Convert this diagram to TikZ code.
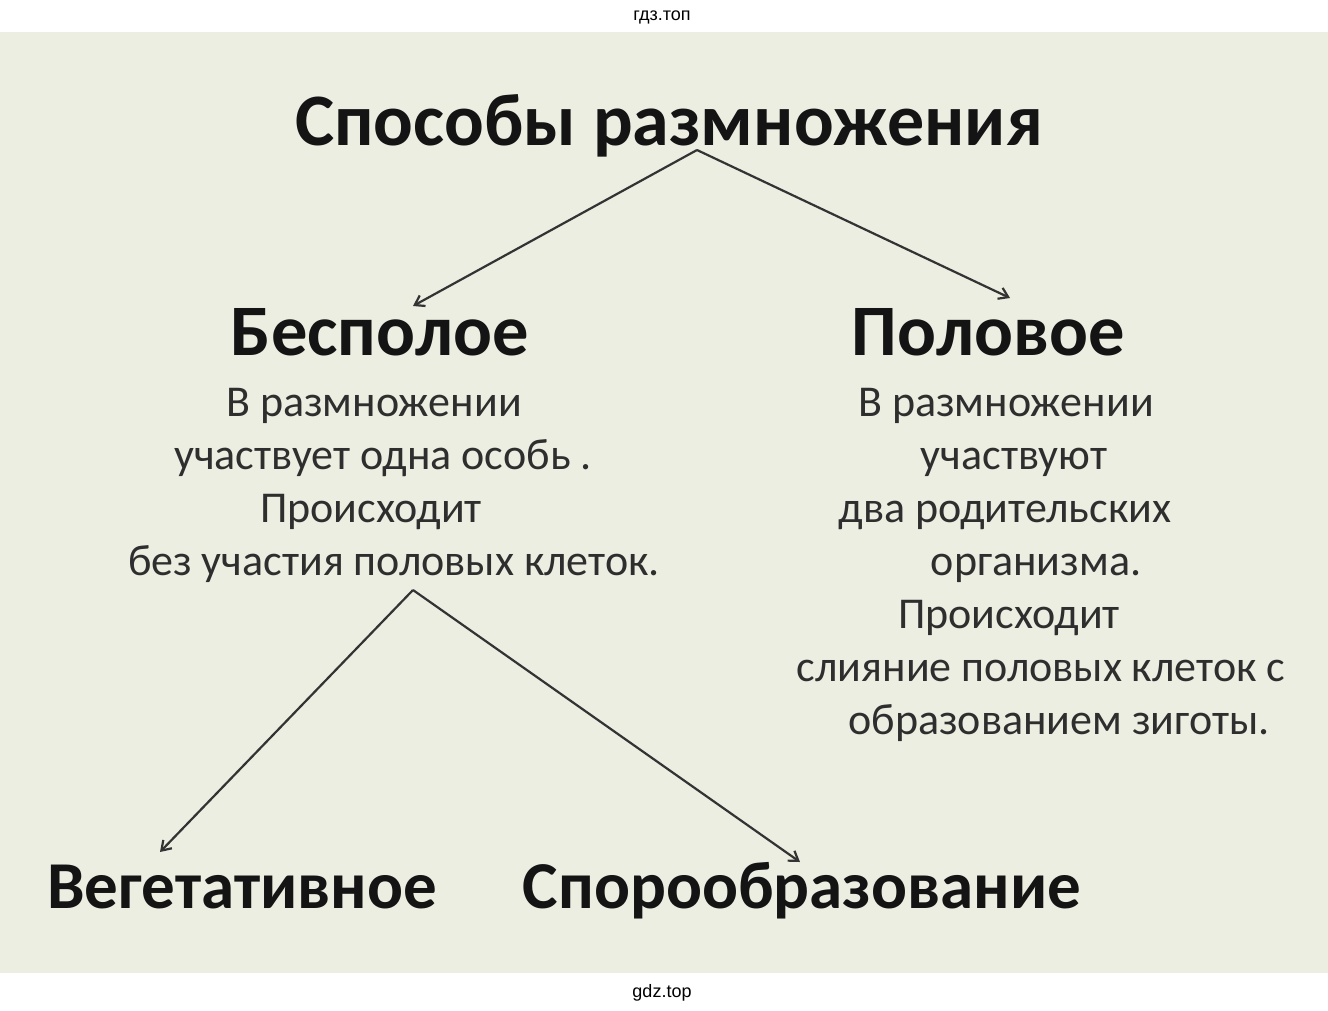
\documentclass[tikz,border=0pt]{standalone}
\usepackage{fontspec}
\setmainfont{Carlito}
\newfontfamily\hdrfont{Liberation Sans}
\usetikzlibrary{arrows.meta}
\definecolor{panel}{HTML}{EBEEE1}
\definecolor{ink}{HTML}{141414}
\definecolor{body}{HTML}{2E2E2E}
\definecolor{arr}{HTML}{333333}
\tikzset{
  ttl/.style={anchor=base, inner sep=0pt, text=ink, font=\bfseries\fontsize{74}{80}\selectfont},
  sub/.style={anchor=base, inner sep=0pt, text=ink, font=\bfseries\fontsize{72.5}{78}\selectfont},
  bot/.style={anchor=base, inner sep=0pt, text=ink, font=\bfseries\fontsize{67}{72}\selectfont},
  txt/.style={anchor=base, inner sep=0pt, text=body, font=\fontsize{44}{48}\selectfont},
  hdr/.style={anchor=base, inner sep=0pt, text=black, font=\hdrfont\fontsize{18}{20}\selectfont},
  arrowline/.style={draw=arr, line width=2.2pt, -{Straight Barb[length=9pt,width=12pt,line width=2.2pt]}}
}
\begin{document}
\begin{tikzpicture}[x=1pt,y=-1pt]
\useasboundingbox (0,0) rectangle (1328,1010);
\fill[white] (0,0) rectangle (1328,1010);
\fill[panel] (0,32) rectangle (1328,973);
\node[hdr] (h1) at (662,20) {гдз.топ};
\node[hdr] (h2) at (662,997) {gdz.top};
\node[ttl] (title) at (669,145) {Способы размножения};
\node[sub] (bes) at (380,355) {Бесполое};
\node[sub] (pol) at (988,355) {Половое};
\node[txt] (l1) at (374,416) {В размножении};
\node[txt] (l2) at (383,469) {участвует одна особь .};
\node[txt] (l3) at (371,522) {Происходит};
\node[txt] (l4) at (394,575) {без участия половых клеток.};
\node[txt] (r1) at (1006,416) {В размножении};
\node[txt] (r2) at (1014,469) {участвуют};
\node[txt] (r3) at (1005,522) {два родительских};
\node[txt] (r4) at (1036,575) {организма.};
\node[txt] (r5) at (1009,628) {Происходит};
\node[txt] (r6) at (1041,681) {слияние половых клеток с};
\node[txt] (r7) at (1059,734) {образованием зиготы.};
\node[bot] (veg) at (242,908) {Вегетативное};
\node[bot] (spo) at (802,908) {Спорообразование};
\coordinate (t0) at (697,150);
\coordinate (tb) at (413,306);
\coordinate (tp) at (1010,298);
\coordinate (b0) at (413,590);
\coordinate (bv) at (160,852);
\coordinate (bs) at (800,862);
\draw[arrowline] (t0) -- (tb);
\draw[arrowline] (t0) -- (tp);
\draw[arrowline] (b0) -- (bv);
\draw[arrowline] (b0) -- (bs);
\end{tikzpicture}
\end{document}
